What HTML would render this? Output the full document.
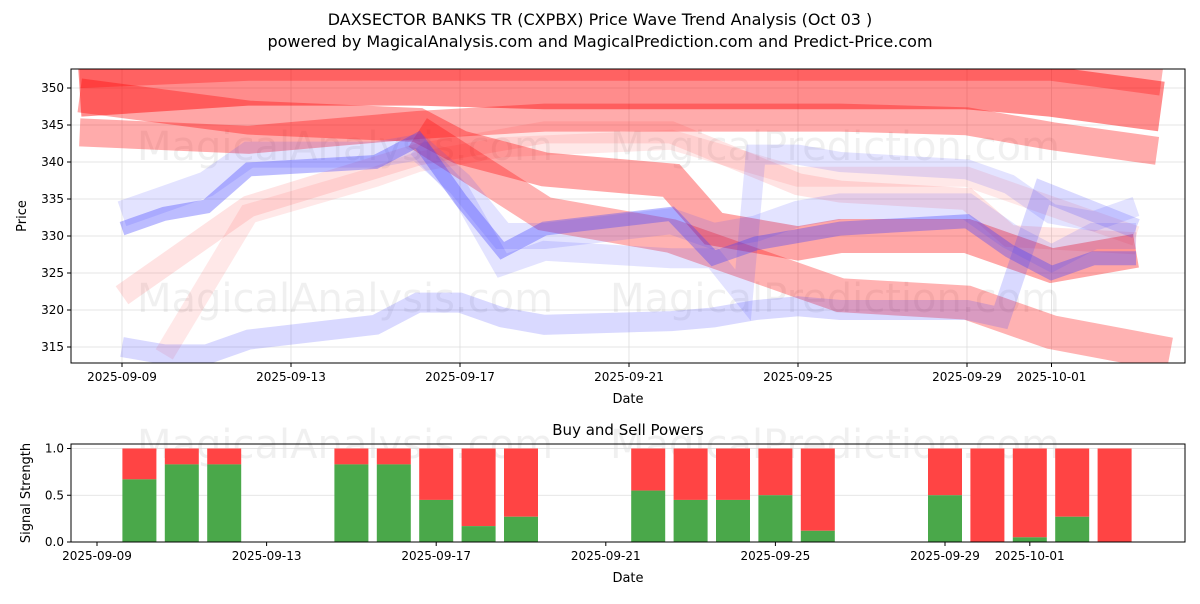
<!DOCTYPE html>
<html><head><meta charset="utf-8"><style>
body{margin:0;background:#fff;font-family:"DejaVu Sans","Liberation Sans",sans-serif;}
svg text{font-family:"DejaVu Sans","Liberation Sans",sans-serif;}
</style></head><body>
<svg id="c" width="1200" height="600" xmlns="http://www.w3.org/2000/svg">
<text x="600" y="25" text-anchor="middle" font-size="16">DAXSECTOR BANKS TR (CXPBX) Price Wave Trend Analysis (Oct 03 )</text>
<text x="600" y="47" text-anchor="middle" font-size="16">powered by MagicalAnalysis.com and MagicalPrediction.com and Predict-Price.com</text>
<g id="top"></g>
<g id="bot"></g>
</svg>
<script>
// ---- data ----
const blueMainDays = [0,1,2,3,6,7,8,9,10,13,14,15,16,17,20,21,22,23,24];
const blueMainVals = [331,333,334,339,340,343,335,328,331,333,327,329,330,331,332,328,325,327,327];
const blueLowDays = [0,1,2,3,6,7,8,9,10,13,14,15,16,17,20,20.8,21.8,24];
const blueLowVals = [315,314,314,316,318,321,321,319,318,318.5,319,320,320.5,320,320,319,336,331];
const blueMidDays = [7,8,9,10,13,14,14.7,15,16,17,20,21,22,23,24];
const blueMidVals = [342,336,326,328,327,327,322,341,341,340,339,337,333,332,334];
const blueUpDays = [0,1,2,3,6,7,8,9,10,13,14,15,16,17,20,21,22,23,24];
const blueUpVals = [333,335,337,341,341,342,337,330,330,332,330,331,333,334,334,330,327,330,330];
const redTopDays = [-1,3,7,10,13,17,20,22,24.6];
const redTopVals = [349.5,351,351,350.5,350.5,350.5,350.5,349.5,347.5];
const redTop2Days = [-1,3,10,20,22,24.6];
const redTop2Vals = [352,353,353,353,353,351];
const redMidDays = [-1,3,7,10,13,17,20,22,24.5];
const redMidVals = [344,343,345,346,346,346,345.5,343.5,341.5];
const redDescDays = [-1,3,7,8,10,13,14,16,17,20,22,24];
const redDescVals = [349,346,345,342,339,337.5,331,329,330,330,326,328];
const redLowDays = [7,10,13,16,17,20,22,24.8];
const redLowVals = [344,333,330,324,322,321,317,314];
const pinkDays = [0,3,7,10,13,16,17,20,21,24];
const pinkVals = [322,334,341,344,344,337,336,335,330,329];
const pink2Days = [1,3,6,7,9,13,16,20,24];
const pink2Vals = [314,333,338,340,342,343,338,338,330];
const sigDays = [1,2,3,6,7,8,9,10,13,14,15,16,17,20,21,22,23,24];
const buyVals = [0.67,0.83,0.83,0.83,0.83,0.45,0.17,0.27,0.55,0.45,0.45,0.5,0.12,0.5,0,0.05,0.27,0];
const priceTicks = [315,320,325,330,335,340,345,350];
const dateTickDays = [0,4,8,12,16,20,22];
const dateTickLabels = ['2025-09-09','2025-09-13','2025-09-17','2025-09-21','2025-09-25','2025-09-29','2025-10-01'];
const sigTicks = [0,0.5,1.0];
const sigTickLabels = ['0.0','0.5','1.0'];

const NS='http://www.w3.org/2000/svg';
function mk(tag,attrs,parent){const e=document.createElementNS(NS,tag);for(const k in attrs)e.setAttribute(k,attrs[k]);parent.appendChild(e);return e;}
const topG=document.getElementById('top'), botG=document.getElementById('bot');
const TL=71,TR=1185,TT=69,TB=363;
const xT=d=>122+42.25*d, yT=v=>88+(350-v)*7.4;
const clipD=mk('clipPath',{id:'ct'},topG); mk('rect',{x:TL,y:TT,width:TR-TL,height:TB-TT},clipD);
const gridG=mk('g',{},topG);
priceTicks.forEach(v=>{const l=mk('line',{x1:TL,x2:TR,y1:yT(v),y2:yT(v),stroke:'#ddd','stroke-width':0.8},gridG);

const t=mk('text',{x:TL-7,y:yT(v)+4,'text-anchor':'end','font-size':12},topG);t.textContent=v;

mk('line',{x1:TL-4,x2:TL,y1:yT(v),y2:yT(v),stroke:'#000'},topG);});
dateTickDays.forEach((d,i)=>{const l=mk('line',{x1:xT(d),x2:xT(d),y1:TT,y2:TB,stroke:'#ddd','stroke-width':0.8},gridG);

mk('line',{x1:xT(d),x2:xT(d),y1:TB,y2:TB+4,stroke:'#000'},topG);
const t=mk('text',{x:xT(d),y:TB+18,'text-anchor':'middle','font-size':12},topG);t.textContent=dateTickLabels[i];
});
const wmPos=[[345,160,'MagicalAnalysis.com'],[835,160,'MagicalPrediction.com'],[345,312,'MagicalAnalysis.com'],[835,312,'MagicalPrediction.com']];
wmPos.forEach(w=>{const e=mk('text',{x:w[0],y:w[1],'text-anchor':'middle','font-size':40,fill:'#000','fill-opacity':0.06},topG);e.textContent=w[2];

});
const bands=mk('g',{'clip-path':'url(#ct)'},topG);
function band(days,vals,color,w,op,name){
 const pts=days.map((d,i)=>xT(d)+','+yT(vals[i])).join(' ');
 const p=mk('polyline',{points:pts,fill:'none',stroke:color,'stroke-width':w,'stroke-opacity':op,'stroke-linejoin':'miter'},bands);
 
 }
band(redTop2Days,redTop2Vals,'#ff0000',30,0.3,'red-wave-top-light');
band(redTopDays,redTopVals,'#ff0000',50,0.45,'red-wave-top');
band(redMidDays,redMidVals,'#ff0000',28,0.33,'red-wave-mid');
band(pinkDays,pinkVals,'#ff4040',22,0.15,'pink-wave');
band(pink2Days,pink2Vals,'#ff4040',20,0.12,'pink-wave-2');
band(redDescDays,redDescVals,'#ff0000',34,0.35,'red-wave-descending');
band(redLowDays,redLowVals,'#ff0000',34,0.3,'red-wave-low');
band(blueUpDays,blueUpVals,'#4040ff',26,0.15,'blue-wave-upper');
band(blueMidDays,blueMidVals,'#4040ff',20,0.15,'blue-wave-mid');
band(blueLowDays,blueLowVals,'#4040ff',20,0.2,'blue-wave-low');
band(blueMainDays,blueMainVals,'#4040ff',14,0.35,'blue-price-line');
mk('rect',{x:TL,y:TT,width:TR-TL,height:TB-TT,fill:'none',stroke:'#000'},topG);
let t=mk('text',{x:628,y:403,'text-anchor':'middle','font-size':13},topG);t.textContent='Date';

t=mk('text',{x:26,y:216,'text-anchor':'middle','font-size':13,transform:'rotate(-90 26 216)'},topG);t.textContent='Price';


const BL=71,BR=1185,BT=444,BB=542;
const xB=d=>97+42.4*d, yB=v=>BB-v*93.5;
t=mk('text',{x:628,y:435,'text-anchor':'middle','font-size':15},botG);t.textContent='Buy and Sell Powers';

[[345,458,'MagicalAnalysis.com'],[835,458,'MagicalPrediction.com']].forEach(w=>{const e=mk('text',{x:w[0],y:w[1],'text-anchor':'middle','font-size':40,fill:'#000','fill-opacity':0.06},botG);e.textContent=w[2];

});
sigTicks.forEach((v,i)=>{const l=mk('line',{x1:BL,x2:BR,y1:yB(v),y2:yB(v),stroke:'#ddd','stroke-width':0.8},botG);

mk('line',{x1:BL-4,x2:BL,y1:yB(v),y2:yB(v),stroke:'#000'},botG);
const tt=mk('text',{x:BL-7,y:yB(v)+4,'text-anchor':'end','font-size':12},botG);tt.textContent=sigTickLabels[i];
});
sigDays.forEach((d,i)=>{const x=xB(d)-17,b=buyVals[i];
 const r=mk('rect',{x:x,y:yB(1),width:34,height:yB(b)-yB(1),fill:'#ff4444'},botG);
 
 
 const g=mk('rect',{x:x,y:yB(b),width:34,height:yB(0)-yB(b),fill:'#4aa84a'},botG);
 
 });
dateTickDays.forEach((d,i)=>{mk('line',{x1:xB(d),x2:xB(d),y1:BB,y2:BB+4,stroke:'#000'},botG);
const tt=mk('text',{x:xB(d),y:BB+18,'text-anchor':'middle','font-size':12},botG);tt.textContent=dateTickLabels[i];
});
mk('rect',{x:BL,y:BT,width:BR-BL,height:BB-BT,fill:'none',stroke:'#000'},botG);
t=mk('text',{x:628,y:582,'text-anchor':'middle','font-size':13},botG);t.textContent='Date';

t=mk('text',{x:30,y:493,'text-anchor':'middle','font-size':13,transform:'rotate(-90 30 493)'},botG);t.textContent='Signal Strength';

</script>
</body></html>
